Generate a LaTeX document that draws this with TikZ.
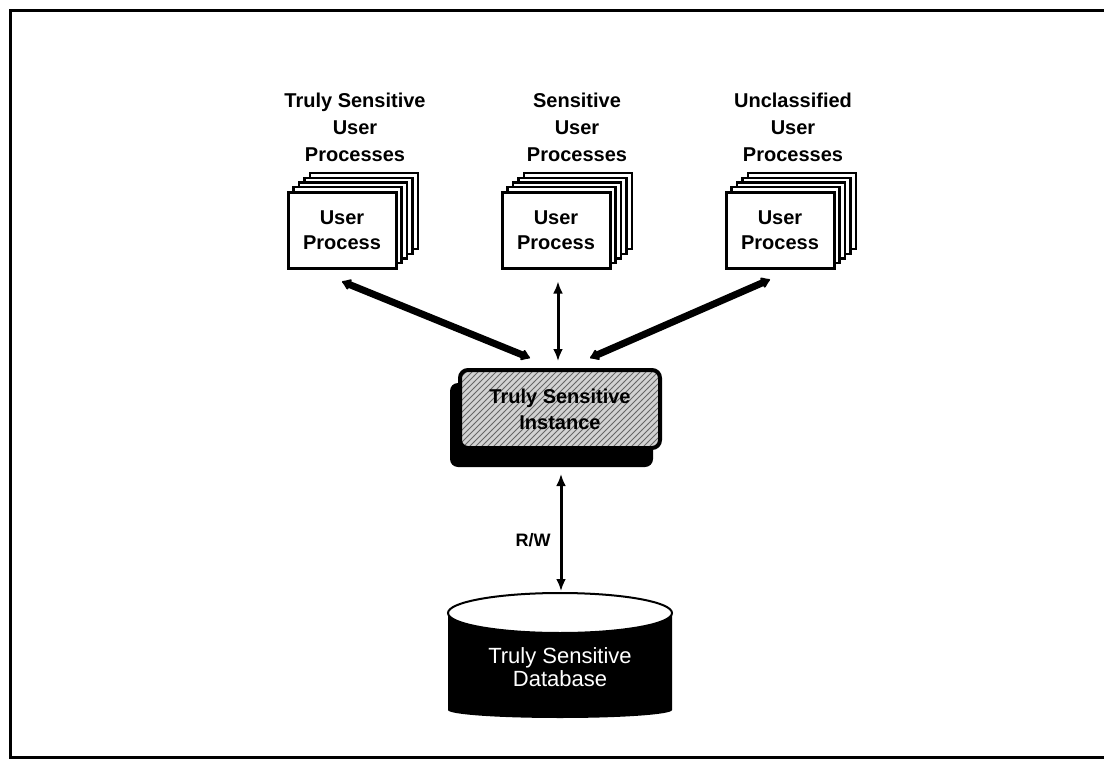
\documentclass[tikz,border=0pt]{standalone}
\usepackage{fontspec}
\setmainfont{Liberation Sans}
\usetikzlibrary{calc,patterns,arrows.meta}

\begin{document}
\begin{tikzpicture}[x=0.5pt,y=-0.5pt,
  lab/.style={font=\bfseries\fontsize{10}{13.5}\selectfont, align=center, inner sep=0pt},
  procbox/.style={draw, line width=1.5pt, fill=white, minimum width=54pt, minimum height=38pt,
    font=\bfseries\fontsize{10}{12.5}\selectfont, align=center, inner sep=0pt},
  layer/.style={draw, line width=1.1pt, fill=white},
  instbox/.style={draw, line width=2pt, rounded corners=4pt, minimum width=100pt, minimum height=39pt,
    preaction={fill=gray!35}, pattern=north east lines, pattern color=black!60,
    font=\bfseries\fontsize{10}{13}\selectfont, align=center, inner sep=0pt},
  heavy/.style={line width=3.5pt, line cap=round,
    {Latex[length=5pt,width=7pt,round]}-{Latex[length=5pt,width=7pt,round]}},
  slimarrow/.style={line width=1.5pt, {Latex[length=6pt,width=5pt]}-{Latex[length=6pt,width=5pt]}},
  dbtext/.style={text=white, font=\fontsize{11}{11.5}\selectfont, align=center, inner sep=0pt},
  rwlab/.style={font=\bfseries\fontsize{9}{10}\selectfont, inner sep=0pt}
]
\useasboundingbox (0,0) rectangle (1104,760);

% outer frame (open on the right)
\draw[line width=1.5pt] (1104,10) -- (10,10) -- (10,757) -- (1104,757);

% group captions
\node[lab] (l1) at (355,127) {Truly Sensitive\\User\\Processes};
\node[lab] (l2) at (577,127) {Sensitive\\User\\Processes};
\node[lab] (l3) at (793,127) {Unclassified\\User\\Processes};

% stacks of user process cards
\foreach \n/\cx in {p1/342, p2/556, p3/780} {
  \foreach \k in {4,3,2,1}
    \draw[layer] (\cx-54+5.5*\k, 192-4.75*\k) rectangle ++(108,76);
  \node[procbox] (\n) at (\cx,230) {User\\Process};
}

% truly sensitive instance with drop shadow
\fill[rounded corners=4pt] (450,383) rectangle (653,467);
\node[instbox] (ts) at (560,409) {Truly Sensitive\\Instance};

% connections between processes and the instance
\draw[heavy] ($(p1.south)+(0,12)$) -- ($(ts.north)+(-30,-10)$);
\draw[slimarrow] ($(p2.south)+(2,12)$) -- ($(ts.north)+(-2,-7)$);
\draw[heavy] ($(p3.south)+(-10,10)$) -- ($(ts.north)+(30,-10)$);

% database cylinder
\fill (448,613) -- (448,710) arc[start angle=180, end angle=360, x radius=56pt, y radius=4pt]
  -- (672,613) -- cycle;
\draw[line width=1pt, fill=white] (560,613) ellipse [x radius=56pt, y radius=10pt];
\coordinate (dbtop) at (561,591);
\node[dbtext] (db) at (560,667) {Truly Sensitive\\Database};

% read/write link
\draw[slimarrow] ($(ts.south)+(1,24)$) -- (dbtop);
\node[rwlab] (rw) at (533,540) {R/W};
\end{tikzpicture}
\end{document}
